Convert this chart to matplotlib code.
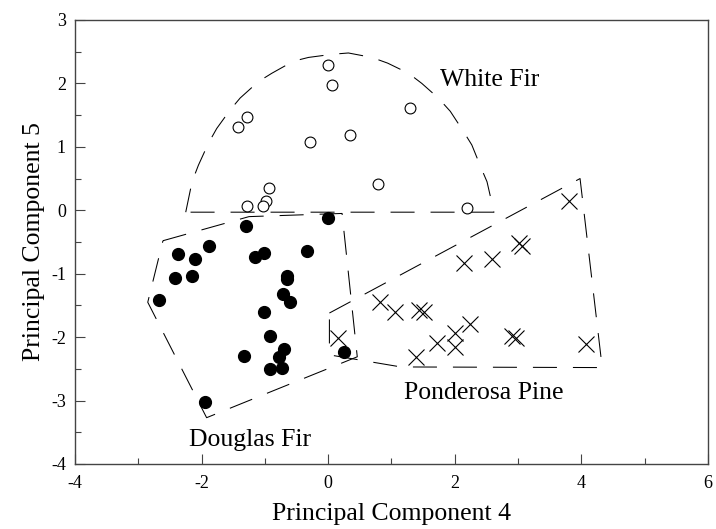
import matplotlib.pyplot as plt
from matplotlib.ticker import MultipleLocator

# scores on principal components 4 and 5
white_fir_x = [0.00, 0.06, -1.28, -1.42, -0.28, 0.35, 1.30, 0.78, -0.93, -0.98, -1.03, -1.28, 2.20]
white_fir_y = [2.29, 1.98, 1.47, 1.32, 1.07, 1.18, 1.62, 0.42, 0.35, 0.15, 0.07, 0.07, 0.04]

douglas_fir_x = [-1.30, -0.01, -1.89, -2.37, -2.10, -2.42, -2.15, -2.67, -1.16, -1.02, -0.34, -0.65,
                 -0.65, -0.72, -0.61, -1.01, -0.92, -0.70, -0.77, -1.33, -0.92, -0.73, -1.94, 0.25]
douglas_fir_y = [-0.24, -0.12, -0.56, -0.69, -0.77, -1.06, -1.04, -1.42, -0.73, -0.68, -0.64, -1.03,
                 -1.09, -1.32, -1.44, -1.60, -1.98, -2.19, -2.31, -2.29, -2.51, -2.49, -3.03, -2.23]

ponderosa_x = [3.81, 3.01, 3.06, 2.59, 2.15, 0.82, 1.06, 1.43, 1.51, 0.16, 1.39, 1.72, 2.01, 2.01,
               2.24, 2.90, 2.97, 4.08]
ponderosa_y = [0.15, -0.51, -0.56, -0.77, -0.83, -1.45, -1.61, -1.57, -1.60, -2.01, -2.32, -2.09,
               -1.94, -2.15, -1.79, -1.98, -2.02, -2.11]

# hand-drawn group outlines
white_fir_hull_x = [-2.25, -2.15, -2.05, -1.89, -1.76, -1.55, -1.39, -1.10, -0.89, -0.55, -0.31, 0.07,
                    0.32, 0.69, 0.94, 1.27, 1.48, 1.74, 1.93, 2.14, 2.27, 2.42, 2.51, 2.62, -2.25]
white_fir_hull_y = [-0.03, 0.45, 0.71, 1.06, 1.29, 1.58, 1.77, 2.03, 2.16, 2.35, 2.41, 2.46,
                    2.48, 2.41, 2.32, 2.16, 2.00, 1.77, 1.56, 1.24, 1.03, 0.66, 0.45, -0.03, -0.03]

douglas_hull_x = [-2.61, -1.25, 0.22, 0.46, -1.92, -2.85, -2.61]
douglas_hull_y = [-0.48, -0.10, -0.05, -2.31, -3.27, -1.45, -0.48]

ponderosa_hull_x = [0.02, 3.98, 4.33, 1.15, 0.02, 0.02]
ponderosa_hull_y = [-1.62, 0.50, -2.48, -2.47, -2.28, -1.62]

plt.rcParams['font.family'] = ['Liberation Serif', 'DejaVu Serif']
plt.rcParams['axes.unicode_minus'] = False

fig = plt.figure(figsize=(7.16, 5.29), dpi=100)
ax = fig.add_axes([0.1047, 0.1229, 0.884, 0.8393])

lw = 0.75
dash = (0, (17.3 / lw, 11.5 / lw))
for hx, hy in [(white_fir_hull_x, white_fir_hull_y),
               (douglas_hull_x, douglas_hull_y),
               (ponderosa_hull_x, ponderosa_hull_y)]:
    ax.plot(hx, hy, color='black', lw=lw, linestyle=dash)

ax.plot(white_fir_x, white_fir_y, 'o', ms=7.8, mfc='white', mec='black', mew=0.8, ls='none')
ax.plot(douglas_fir_x, douglas_fir_y, 'o', ms=8.5, mfc='black', mec='black', ls='none')
ax.plot(ponderosa_x, ponderosa_y, 'x', ms=12, mec='black', mew=0.8, ls='none')

ax.text(1.77, 1.96, 'White Fir', fontsize=18.5, va='baseline', ha='left')
ax.text(-2.20, -3.71, 'Douglas Fir', fontsize=18.5, va='baseline', ha='left')
ax.text(1.20, -2.97, 'Ponderosa Pine', fontsize=18.5, va='baseline', ha='left')

ax.set_xlim(-4, 6)
ax.set_ylim(-4, 3)
ax.xaxis.set_major_locator(MultipleLocator(2))
ax.xaxis.set_minor_locator(MultipleLocator(1))
ax.yaxis.set_major_locator(MultipleLocator(1))
ax.yaxis.set_minor_locator(MultipleLocator(0.5))
ax.tick_params(which='both', direction='in', top=False, right=False, labelsize=13, color='#444444')
ax.tick_params(which='major', length=7, width=0.8)
ax.tick_params(which='minor', length=4, width=0.8)
ax.tick_params(axis='x', which='major', pad=8)
ax.tick_params(axis='y', which='major', pad=6.5)
for s in ax.spines.values():
    s.set_color('#444444')
    s.set_linewidth(1.0)

ax.set_xlabel('Principal Component 4', fontsize=18.5, labelpad=8)
ax.set_ylabel('Principal Component 5', fontsize=18.5, labelpad=4)

fig.savefig('out.png', dpi=100)
